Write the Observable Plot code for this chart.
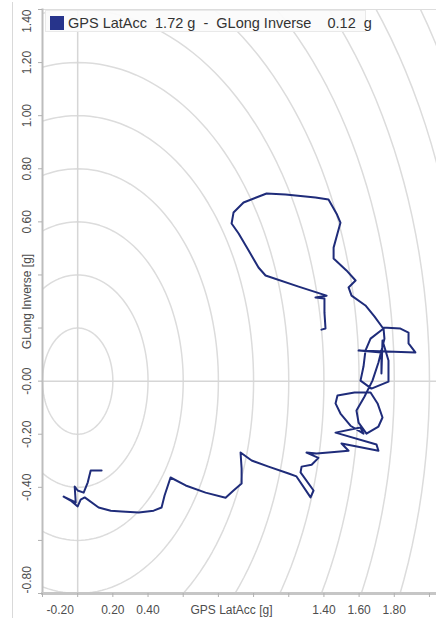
<!DOCTYPE html>
<html><head><meta charset="utf-8">
<script src="https://cdn.jsdelivr.net/npm/d3@7"></script>
<script src="https://cdn.jsdelivr.net/npm/@observablehq/plot@0.6"></script>
<style>
body{margin:0;background:#fff;font-family:"Liberation Sans",Arial,sans-serif;}
#wrap{position:relative;width:436px;height:618px;overflow:hidden;}
#chart{position:absolute;left:0;top:0;}
#edge{position:absolute;left:12px;top:2px;bottom:0;width:1px;background:#d9d9d9;}
#legend{position:absolute;left:45px;top:10px;width:321px;height:22px;background:rgba(251,251,251,0.92);border:1px solid #e9e9e9;box-sizing:border-box;}
#legend .sw{position:absolute;left:4px;top:5px;width:14px;height:14px;background:#27348b;}
#legend .tx{position:absolute;left:22px;top:4px;font-size:14.5px;line-height:16px;white-space:pre;color:#333;}
</style></head>
<body><div id="wrap"><div id="chart"></div><div id="edge"></div><div id="legend"><div class="sw"></div><div class="tx"></div></div></div>
<script>
// GPS lateral acceleration (x) and inverse longitudinal acceleration (y), in g, in drive order
const latAcc = [0.136,0.074,0.057,0.034,0.000,-0.017,-0.011,-0.080,-0.040,0.000,0.017,0.040,0.119,0.188,0.250,0.347,0.432,0.477,0.494,0.528,0.614,0.727,0.841,0.886,0.932,0.932,0.926,0.989,1.085,1.199,1.244,1.324,1.341,1.267,1.273,1.330,1.369,1.301,1.358,1.426,1.540,1.500,1.710,1.699,1.466,1.608,1.625,1.551,1.494,1.466,1.477,1.574,1.665,1.705,1.733,1.710,1.642,1.597,1.585,1.631,1.676,1.710,1.744,1.739,1.665,1.636,1.625,1.608,1.670,1.767,1.767,1.733,1.727,1.727,1.597,1.920,1.881,1.881,1.835,1.733,1.688,1.636,1.557,1.540,1.580,1.528,1.455,1.455,1.477,1.494,1.472,1.426,1.352,1.182,1.074,0.943,0.886,0.875,0.915,0.972,1.028,1.068,1.256,1.415,1.352,1.403,1.403,1.409,1.386];
const gLong = [-0.337,-0.337,-0.382,-0.420,-0.412,-0.397,-0.457,-0.435,-0.450,-0.472,-0.446,-0.438,-0.476,-0.488,-0.491,-0.495,-0.488,-0.476,-0.431,-0.363,-0.393,-0.420,-0.439,-0.412,-0.386,-0.329,-0.269,-0.299,-0.322,-0.348,-0.359,-0.438,-0.412,-0.344,-0.322,-0.315,-0.289,-0.269,-0.273,-0.269,-0.262,-0.235,-0.262,-0.239,-0.194,-0.175,-0.198,-0.168,-0.122,-0.084,-0.054,-0.043,-0.043,-0.084,-0.137,-0.171,-0.198,-0.156,-0.111,-0.058,0.002,0.070,0.160,0.198,0.160,0.115,0.055,0.002,-0.028,-0.002,0.078,0.153,0.029,0.108,0.115,0.108,0.142,0.183,0.198,0.202,0.243,0.285,0.322,0.353,0.379,0.417,0.462,0.503,0.556,0.597,0.631,0.684,0.692,0.703,0.707,0.673,0.635,0.594,0.556,0.492,0.428,0.398,0.356,0.322,0.315,0.311,0.258,0.198,0.194];

const xTickValues = [-0.2,0,0.2,0.4,0.6,0.8,1.0,1.2,1.4,1.6,1.8,2.0];
const yTickValues = [-0.8,-0.6,-0.4,-0.2,0,0.2,0.4,0.6,0.8,1.0,1.2,1.4];
const xLabelValues = [-0.2,0.2,0.4,1.4,1.6,1.8];
const xLabelText = ["-0.20","0.20","0.40","1.40","1.60","1.80"];
const yLabelValues = [-0.8,-0.4,-0.2,0,0.6,0.8,1.0,1.2,1.4];
const yLabelText = ["-0.80","-0.40","-0.20","-0.00","0.60","0.80","1.00","1.20","1.40"];
const ringRadii = [0.2,0.4,0.6,0.8,1.0,1.2,1.4,1.6,1.8,2.0,2.2,2.4,2.6];
const xTitle = "GPS LatAcc [g]";
const yTitle = "GLong Inverse [g]";
const legendText = "GPS LatAcc  1.72 g  -  GLong Inverse    0.12  g";

document.querySelector("#legend .tx").textContent = legendText;

const path = latAcc.map((x, i) => ({x, y: gLong[i]}));
const ringPts = ringRadii.flatMap(r => d3.range(0, 361, 2).map(a => ({r, x: r * Math.cos(a * Math.PI / 180), y: r * Math.sin(a * Math.PI / 180)})));

const lblColor = "#4d4d4d";
const common = {fill: lblColor, lineAnchor: "middle"};
const chart = Plot.plot({
  width: 436, height: 618,
  marginLeft: 42, marginRight: 0, marginTop: 9, marginBottom: 25,
  x: {domain: [-0.2, 2.04]},
  y: {domain: [-0.8, 1.4]},
  style: {fontFamily: "'Liberation Sans', Arial, sans-serif", fontSize: "12px", color: lblColor, background: "transparent"},
  marks: [
    Plot.line(ringPts, {x: "x", y: "y", z: "r", stroke: "#dcdcdc", strokeWidth: 1.5, clip: true}),
    Plot.ruleX([0], {stroke: "#d6d6d6", strokeWidth: 1.5}),
    Plot.ruleY([0], {stroke: "#d6d6d6", strokeWidth: 1.5}),
    Plot.frame({anchor: "top", stroke: "#dddddd"}),
    Plot.frame({anchor: "left", stroke: "#bdbdbd", strokeWidth: 2}),
    Plot.frame({anchor: "bottom", stroke: "#c6c6c6", strokeWidth: 3}),
    Plot.axisX({ticks: xTickValues, tickFormat: () => "", tickSize: 4, stroke: "#b0b0b0", label: null}),
    Plot.axisY({ticks: yTickValues, tickFormat: () => "", tickSize: 4, stroke: "#b0b0b0", label: null}),
    Plot.line(path, {x: "x", y: "y", stroke: "#1f2c7a", strokeWidth: 2, strokeLinejoin: "round", strokeLinecap: "round"}),
    // x tick labels
    Plot.text(xLabelValues.slice(0, 1), {...common, x: d => d, frameAnchor: "bottom", dy: 17, dx: 4, textAnchor: "start", text: (d, i) => xLabelText[i]}),
    Plot.text(xLabelValues.slice(1), {...common, x: d => d, frameAnchor: "bottom", dy: 17, textAnchor: "middle", text: (d, i) => xLabelText[i + 1]}),
    // y tick labels (rotated)
    Plot.text(yLabelValues.slice(0, 1), {...common, y: d => d, frameAnchor: "left", dx: -15, rotate: -90, textAnchor: "start", text: (d, i) => yLabelText[i]}),
    Plot.text(yLabelValues.slice(1, -1), {...common, y: d => d, frameAnchor: "left", dx: -15, rotate: -90, textAnchor: "middle", text: (d, i) => yLabelText[i + 1]}),
    Plot.text(yLabelValues.slice(-1), {...common, y: d => d, frameAnchor: "left", dx: -15, rotate: -90, textAnchor: "end", text: () => yLabelText[yLabelText.length - 1]}),
    // axis titles
    Plot.text([xTitle], {...common, frameAnchor: "bottom", dy: 17, dx: -8, textAnchor: "middle", text: d => d}),
    Plot.text([yTitle], {...common, frameAnchor: "left", dx: -15, rotate: -90, textAnchor: "middle", text: d => d})
  ]
});
document.getElementById("chart").appendChild(chart);
</script>
</body></html>
